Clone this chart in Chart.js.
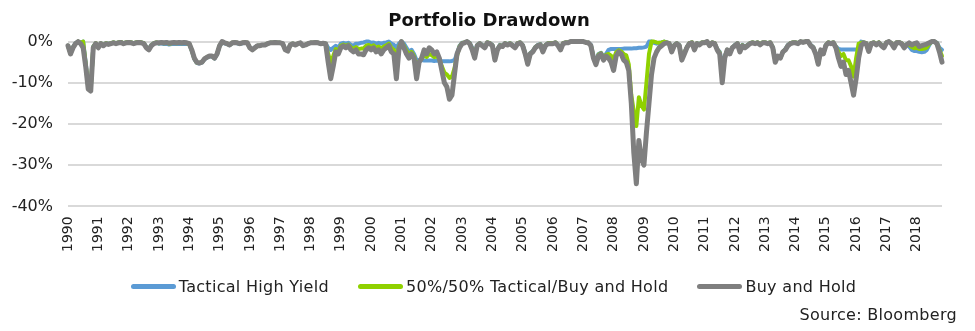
<!DOCTYPE html>
<html>
<head>
<meta charset="utf-8">
<script src="https://cdn.jsdelivr.net/npm/chart.js@4/dist/chart.umd.min.js"></script>
<style>
  body { margin: 0; background: #fff; font-family: "DejaVu Sans", sans-serif; }
  #wrap { position: relative; width: 975px; height: 331px; }
  #legend {
    position: absolute; left: 0; top: 277px; width: 975px;
    display: flex; justify-content: center; gap: 29px;
    font-size: 16px; letter-spacing: 0.3px; color: #222; padding-left: 12px; box-sizing: border-box;
  }
  .item { display: flex; align-items: center; white-space: nowrap; }
  .mark { display: inline-block; width: 45px; height: 5px; border-radius: 3px; margin-right: 3px; }
  #source { position: absolute; right: 18px; top: 305px; font-size: 16px; letter-spacing: 0.3px; color: #222; }
</style>
</head>
<body>
<div id="wrap">
  <canvas id="chart" width="975" height="331"></canvas>
  <div id="legend"></div>
  <div id="source">Source: Bloomberg</div>
</div>
<script>
// === Data: monthly drawdown (%), Jan 1990 .. Nov 2018 ===
const startYear = 1990;
const seriesNames = ["Tactical High Yield", "50%/50% Tactical/Buy and Hold", "Buy and Hold"];
const seriesColors = ["#5b9bd5", "#8fd100", "#7f7f7f"];
const yTicks = [0, -10, -20, -30, -40];

const tactical = [
  -1, -2.8, -1.3, -0.4, 0, -0.3, 0, -5, -11, -11.5, -1.2, -0.4,
  -1.3, -0.4, -0.8, -0.4, -0.5, -0.4, -0.2, -0.4, -0.2, -0.1, -0.4, -0.2,
  -0.1, -0.2, -0.4, -0.2, -0.1, -0.2, -0.4, -1.3, -1.8, -0.8, -0.4, -0.2,
  -0.5, -0.4, -0.6, -0.5, -0.7, -0.6, -0.5, -0.6, -0.5, -0.6, -0.5, -0.6,
  -0.6, -2.2, -4.2, -5.2, -5.3, -5.1, -4.3, -3.9, -3.6, -3.6, -4.1, -3.1,
  -1.1, -0.2, -0.4, -0.6, -0.9, -0.4, -0.3, -0.4, -0.6, -0.4, -0.3, -0.4,
  -1.5, -1.9, -1.4, -1, -1, -0.8, -0.8, -0.5, -0.3, -0.3, -0.2, -0.3,
  -0.3, -0.5, -1.9, -2.2, -0.8, -0.5, -0.8, -0.5, -0.3, -1, -0.8, -0.5,
  -0.3, -0.3, -0.2, -0.3, -0.5, -0.4, -0.5, -1.5, -2, -1.5, -1, -1.5,
  -0.5, -0.3, -0.5, -0.3, -0.8, -1, -0.5, -0.5, -0.3, -0.2, 0, 0,
  -0.3, -0.2, -0.5, -0.3, -0.5, -0.3, -0.2, 0, -0.5, -0.8, -1.5, -0.5,
  0, -0.5, -1.5, -2.5, -2, -3, -4.5, -4.5, -4.5, -4.6, -4.6, -4.6,
  -4.6, -4.7, -4.6, -4.7, -4.8, -4.8, -4.8, -4.8, -4.7, -4.5, -3, -1,
  -0.3, -0.2, 0, -0.3, -1.5, -3, -0.8, -0.4, -0.8, -1.2, -0.2, -0.4,
  -0.8, -4, -1.8, -0.8, -1, -0.4, -0.6, -0.4, -0.8, -1.3, -0.4, -0.2,
  -0.8, -2.8, -5.2, -2.8, -2.3, -1.3, -0.8, -0.6, -2.3, -0.8, -0.4, -0.4,
  -0.4, -0.2, -0.8, -1.8, -0.4, -0.2, -0.2, 0, 0, 0, 0, 0,
  0, -0.2, -0.3, -0.8, -3.5, -5, -3, -2.7, -3.8, -3, -2, -1.8,
  -1.8, -1.8, -1.8, -1.8, -1.7, -1.7, -1.7, -1.7, -1.6, -1.6, -1.5, -1.5,
  -1.4, -1.2, 0, 0, -0.3, -0.5, -0.3, -0.2, 0, -0.2, -0.4, -2.2,
  -0.8, -0.4, -0.8, -4, -2.7, -1.3, -0.4, -0.2, -1.8, -0.4, -0.6, -0.2,
  -0.2, 0, -0.8, -0.2, -0.4, -1.8, -2.5, -6, -3.5, -2, -2.5, -1.5,
  -0.8, -0.4, -2.2, -0.8, -1.3, -0.8, -0.4, -0.2, -0.4, -0.2, -0.6, -0.2,
  -0.2, -0.4, -0.2, -1.3, -4.5, -3.8, -4, -2.5, -1.8, -0.8, -0.4, -0.2,
  -0.2, -0.4, 0, -0.1, 0, 0, -0.8, -1.3, -2.8, -5.3, -2.3, -3,
  -0.8, -0.2, -0.4, -0.2, -1.2, -1.8, -1.9, -1.9, -1.9, -1.9, -1.9, -1.9,
  -1.9, -1.8, 0, -0.2, -0.4, -2, -0.4, -0.2, -0.6, -0.2, -0.8, -1.2,
  -0.2, 0, -0.4, -1.2, -0.2, -0.1, -0.4, -1.2, -0.6, -1.2, -2, -2.3,
  -2.3, -2.5, -2.6, -2.5, -2, -0.8, 0, 0, -0.3, -1.5, -2
];

const blended = [
  -1, -2.9, -1.4, -0.5, 0, -0.3, 0, -5.5, -11, -11.5, -1.3, -0.4,
  -1.4, -0.4, -0.9, -0.4, -0.6, -0.4, -0.2, -0.4, -0.2, -0.1, -0.4, -0.2,
  -0.1, -0.2, -0.4, -0.2, -0.1, -0.2, -0.4, -1.4, -1.9, -0.9, -0.4, -0.2,
  -0.4, -0.3, -0.4, -0.3, -0.5, -0.4, -0.3, -0.4, -0.3, -0.4, -0.3, -0.4,
  -0.5, -2.1, -4.1, -5.1, -5.2, -5, -4.2, -3.8, -3.5, -3.5, -4, -3,
  -1, -0.1, -0.3, -0.5, -0.8, -0.3, -0.2, -0.3, -0.5, -0.3, -0.2, -0.3,
  -1.5, -2, -1.5, -1, -1, -0.8, -0.8, -0.5, -0.3, -0.3, -0.2, -0.3,
  -0.3, -0.5, -2, -2.2, -0.8, -0.5, -0.8, -0.5, -0.3, -1, -0.8, -0.5,
  -0.3, -0.3, -0.2, -0.3, -0.5, -0.4, -0.5, -3, -5, -3.5, -1.8, -2.2,
  -1, -0.7, -1, -0.7, -1.4, -1.8, -1.3, -1.8, -1.7, -1.7, -1, -0.8,
  -1.2, -0.9, -1.5, -1.2, -1.8, -1.2, -0.9, -0.5, -1.5, -2, -4.5, -1.2,
  0, -1, -2.2, -3.2, -2.5, -3.5, -6.5, -4.8, -4.2, -3.2, -3.7, -3,
  -3.3, -3.8, -3.5, -4.3, -6, -7.5, -8, -8.8, -8.5, -6.5, -3.5, -1.2,
  -0.4, -0.2, 0, -0.4, -1.8, -3.5, -0.9, -0.4, -0.9, -1.3, -0.2, -0.4,
  -0.9, -4.2, -1.9, -0.9, -1.1, -0.4, -0.7, -0.4, -0.9, -1.4, -0.4, -0.2,
  -0.9, -2.9, -5.3, -2.9, -2.4, -1.4, -0.9, -0.7, -2.4, -0.9, -0.4, -0.4,
  -0.4, -0.2, -0.9, -1.9, -0.4, -0.2, -0.2, 0, 0, 0, 0, 0,
  0, -0.2, -0.3, -0.9, -3.8, -5.3, -3.2, -2.8, -4.2, -3.2, -3, -3.4,
  -4.2, -2.6, -2.1, -2.4, -3, -3.3, -5.5, -13, -17, -20.5, -13.5, -15.5,
  -16.5, -10, -3, 0, 0, -0.2, -0.3, -0.2, 0, -0.2, -0.4, -2.3,
  -0.9, -0.4, -0.9, -4.2, -2.8, -1.4, -0.4, -0.2, -1.9, -0.4, -0.7, -0.2,
  -0.2, 0, -0.9, -0.2, -0.4, -1.9, -2.7, -7.5, -3.8, -2, -2.7, -1.5,
  -0.9, -0.4, -2.3, -0.9, -1.4, -0.9, -0.4, -0.2, -0.4, -0.2, -0.7, -0.2,
  -0.2, -0.4, -0.2, -1.4, -4.7, -3.8, -4, -2.5, -1.9, -0.9, -0.4, -0.2,
  -0.2, -0.4, 0, -0.1, 0, 0, -0.9, -1.4, -2.9, -5.4, -2.1, -3,
  -0.9, -0.2, -0.4, -0.2, -1.3, -2.5, -3.5, -3, -4.5, -4.5, -6, -8.5,
  -4, -0.5, -0.3, -0.2, -0.4, -2.2, -0.4, -0.2, -0.7, -0.2, -0.9, -1.3,
  -0.2, 0, -0.4, -1.3, -0.2, -0.1, -0.4, -1.3, -0.7, -0.8, -1.3, -1.6,
  -1.5, -1.8, -1.8, -1.7, -1.4, -0.5, 0, 0, -0.4, -2, -3.5
];

const buyHold = [
  -1, -3, -1.5, -0.5, 0, -0.5, -1.5, -6, -11.5, -12, -1.5, -0.5,
  -1.5, -0.5, -1, -0.5, -0.7, -0.5, -0.3, -0.5, -0.3, -0.2, -0.5, -0.3,
  -0.2, -0.3, -0.5, -0.3, -0.2, -0.3, -0.5, -1.5, -2, -1, -0.5, -0.3,
  -0.3, -0.2, -0.3, -0.2, -0.4, -0.3, -0.2, -0.3, -0.2, -0.3, -0.2, -0.3,
  -0.5, -2, -4, -5, -5.2, -5, -4.2, -3.8, -3.5, -3.5, -4, -3,
  -1, 0, -0.3, -0.5, -0.8, -0.3, -0.2, -0.3, -0.5, -0.3, -0.2, -0.3,
  -1.5, -2, -1.5, -1, -1, -0.8, -0.8, -0.5, -0.3, -0.3, -0.2, -0.3,
  -0.3, -0.5, -2, -2.3, -0.8, -0.5, -0.8, -0.5, -0.3, -1, -0.8, -0.5,
  -0.3, -0.3, -0.2, -0.3, -0.5, -0.4, -0.5, -5, -9, -6, -2.5, -3,
  -1.5, -1, -1.5, -1, -2, -2.5, -2, -3, -3, -3.2, -2, -1.5,
  -2, -1.5, -2.5, -2, -3, -2, -1.5, -1, -2.5, -3, -9, -2,
  0, -1.5, -3, -4, -3, -4, -9, -5, -4, -2, -3, -1.5,
  -2, -3, -2.5, -4, -7, -10, -11, -14, -13, -8, -3, -1.5,
  -0.5, -0.3, 0, -0.5, -2, -4, -1, -0.5, -1, -1.5, -0.3, -0.5,
  -1, -4.5, -2, -1, -1.2, -0.5, -0.8, -0.5, -1, -1.5, -0.5, -0.3,
  -1, -3, -5.5, -3, -2.5, -1.5, -1, -0.8, -2.5, -1, -0.5, -0.5,
  -0.5, -0.3, -1, -2, -0.5, -0.3, -0.3, 0, 0, 0, 0, 0,
  0, -0.2, -0.3, -1, -4, -5.6, -3.5, -3, -4.5, -3.5, -4, -5,
  -7, -3.5, -2.5, -3, -4.5, -5, -7, -15, -27, -34.5, -24, -28.5,
  -30, -22, -15, -8, -4, -2.5, -1.5, -1, -0.5, -0.3, -0.5, -2.5,
  -1, -0.5, -1, -4.5, -3, -1.5, -0.5, -0.3, -2, -0.5, -0.8, -0.3,
  -0.3, 0, -1, -0.3, -0.5, -2, -3, -10, -4, -2, -3, -1.5,
  -1, -0.5, -2.5, -1, -1.5, -1, -0.5, -0.3, -0.5, -0.3, -0.8, -0.3,
  -0.3, -0.5, -0.3, -1.5, -5, -3.5, -4, -2.5, -2, -1, -0.5, -0.3,
  -0.3, -0.5, 0, -0.2, 0, 0, -1, -1.5, -3, -5.5, -2, -3,
  -1, -0.3, -0.5, -0.3, -1.5, -4, -6, -5, -8, -7, -10, -13,
  -9, -4, -1, -0.3, -0.5, -2.4, -0.5, -0.3, -0.8, -0.3, -1, -1.5,
  -0.3, 0, -0.5, -1.5, -0.3, -0.2, -0.5, -1.5, -0.8, -0.3, -0.8, -0.5,
  -0.3, -1.2, -1, -0.8, -0.6, -0.3, 0, 0, -0.5, -2.5, -5
];

function toPoints(values) {
  return values.map((v, i) => ({ x: startYear + i / 12, y: v }));
}

const lastX = startYear + (buyHold.length - 1) / 12;

// === Legend (HTML) ===
const legend = document.getElementById("legend");
seriesNames.forEach((name, i) => {
  const item = document.createElement("div");
  item.className = "item";
  item.innerHTML = `<span class="mark" style="background:${seriesColors[i]}"></span>${name}`;
  legend.appendChild(item);
});

// === Chart ===
const fontFamily = "'DejaVu Sans', sans-serif";

// y labels are drawn from the y scale, right-aligned left of the plot
const yLabelPlugin = {
  id: "yLabels",
  afterDraw(chart) {
    const { ctx, chartArea, scales } = chart;
    ctx.save();
    ctx.font = `16px ${fontFamily}`;
    ctx.fillStyle = "#222";
    ctx.textAlign = "right";
    ctx.textBaseline = "middle";
    scales.y.ticks.forEach((t) => {
      ctx.fillText(t.value + "%", chartArea.left - 15, scales.y.getPixelForValue(t.value));
    });
    ctx.restore();
  },
};

// keep the year labels vertical whatever the layout pass decided
const forceVertical = (scale) => {
  scale.labelRotation = 90;
  scale._labelItems = null;
};

new Chart(document.getElementById("chart"), {
  type: "line",
  data: {
    datasets: [
      { label: seriesNames[2], data: toPoints(buyHold), borderColor: seriesColors[2], borderWidth: 5, order: 0 },
      { label: seriesNames[1], data: toPoints(blended), borderColor: seriesColors[1], borderWidth: 4, order: 1 },
      { label: seriesNames[0], data: toPoints(tactical), borderColor: seriesColors[0], borderWidth: 4, order: 2 },
    ].map((ds) => ({
      ...ds,
      pointRadius: 0,
      tension: 0,
      fill: false,
      clip: false,
      borderJoinStyle: "round",
      borderCapStyle: "round",
    })),
  },
  plugins: [yLabelPlugin],
  options: {
    responsive: false,
    animation: false,
    layout: { padding: { left: 36, right: 33, top: 0, bottom: 69 } },
    plugins: {
      legend: { display: false },
      tooltip: { enabled: false },
      title: {
        display: true,
        text: "Portfolio Drawdown",
        color: "#111",
        font: { family: fontFamily, size: 18, weight: "bold" },
        padding: { top: 11, bottom: 9 },
      },
    },
    scales: {
      x: {
        type: "linear",
        min: startYear,
        max: lastX,
        afterCalculateLabelRotation: forceVertical,
        afterUpdate: forceVertical,
        grid: { display: false, drawTicks: false },
        border: { display: false },
        ticks: {
          stepSize: 1,
          autoSkip: false,
          maxRotation: 90,
          minRotation: 90,
          padding: 10,
          color: "#222",
          font: { family: fontFamily, size: 14 },
          callback: (v) => (Number.isInteger(v) ? String(v) : ""),
        },
      },
      y: {
        min: -40,
        max: 0,
        afterFit: (scale) => { scale.width = 32; },
        afterBuildTicks: (scale) => { scale.ticks = yTicks.map((v) => ({ value: v })); },
        grid: { color: "#d9d9d9", lineWidth: 2, drawTicks: false },
        border: { display: false },
        ticks: {
          padding: 15,
          color: "rgba(0,0,0,0)",
          font: { family: fontFamily, size: 16 },
          callback: (v) => v + "%",
        },
      },
    },
  },
});
</script>
</body>
</html>
